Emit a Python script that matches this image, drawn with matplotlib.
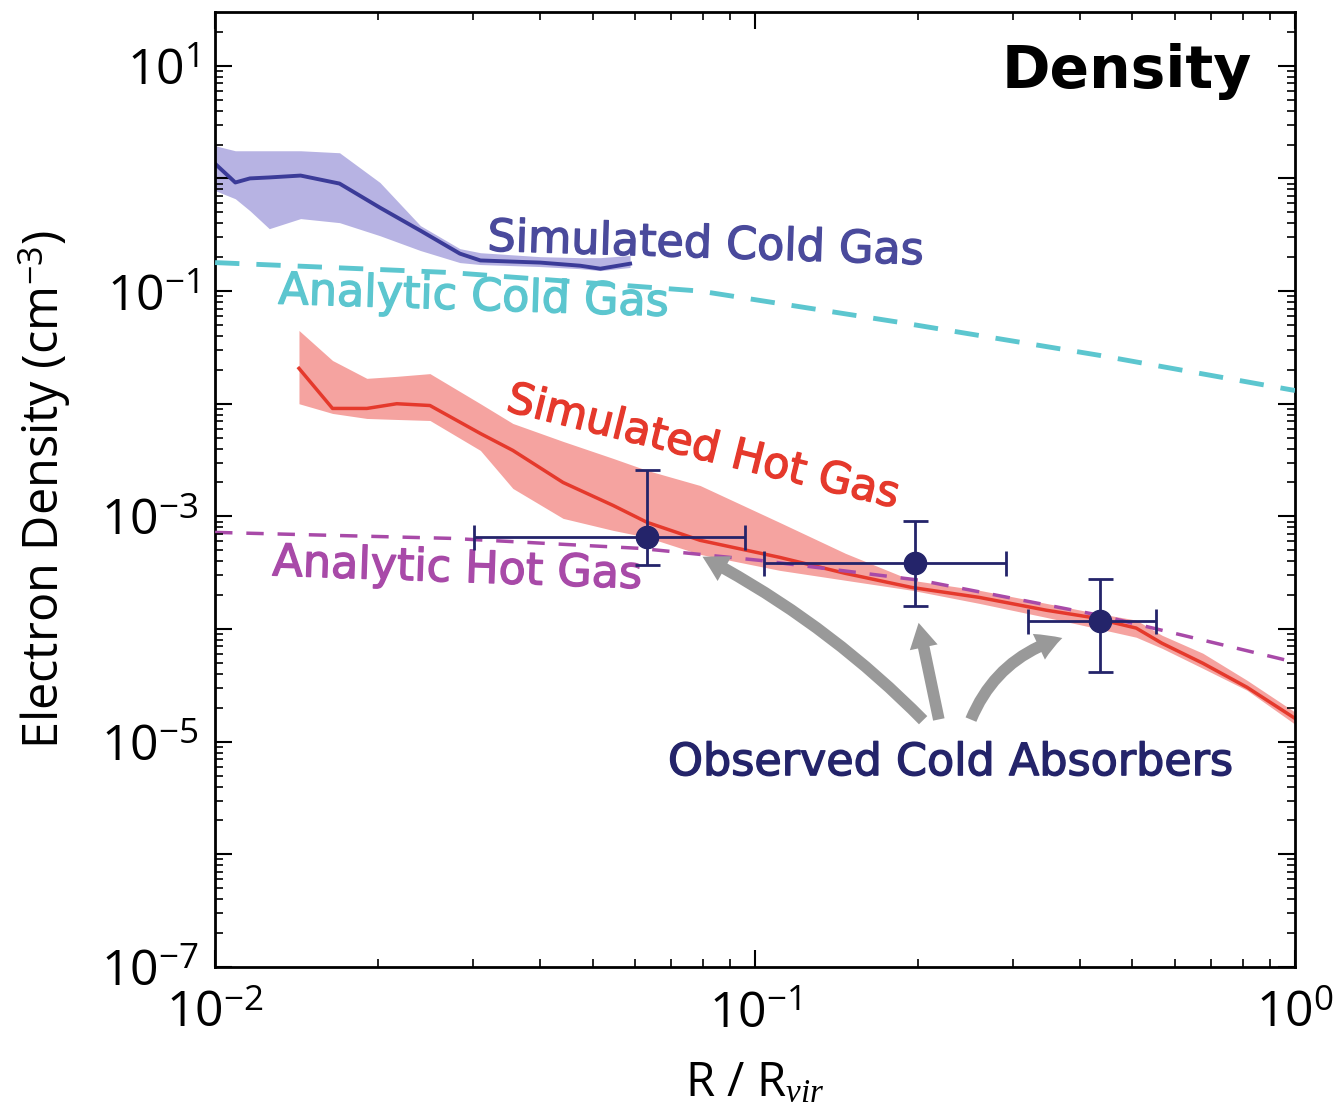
import matplotlib
matplotlib.use("Agg")
import matplotlib.pyplot as plt
import matplotlib.patheffects as pe
import numpy as np
from matplotlib.patches import FancyArrowPatch
from matplotlib.ticker import FixedLocator, NullLocator
from matplotlib.transforms import blended_transform_factory

plt.rcParams['mathtext.fontset'] = 'custom'
plt.rcParams['mathtext.rm'] = 'Open Sans'
plt.rcParams['mathtext.it'] = 'Liberation Serif:italic'

# simulated cold gas: median and spread
cold_r = [0.0100, 0.0109, 0.0116, 0.0126, 0.0144, 0.0170, 0.0202, 0.0240,
          0.0284, 0.0310, 0.0400, 0.0474, 0.0517, 0.0587]
cold_mid = [1.35, 0.92, 1.00, 1.02, 1.06, 0.90, 0.55, 0.344,
            0.215, 0.187, 0.179, 0.168, 0.158, 0.175]
cold_hi = [1.95, 1.76, 1.76, 1.76, 1.76, 1.69, 0.92, 0.381,
           0.238, 0.219, 0.202, 0.198, 0.198, 0.207]
cold_lo = [0.78, 0.66, 0.517, 0.358, 0.44, 0.405, 0.31, 0.229,
           0.179, 0.172, 0.165, 0.158, 0.152, 0.162]

# simulated hot gas: median and spread
hot_r = [0.0143, 0.0165, 0.0191, 0.0217, 0.0250, 0.0310, 0.0356, 0.0441,
         0.0546, 0.0631, 0.0791, 0.111, 0.147, 0.195, 0.260, 0.346,
         0.419, 0.508, 0.567, 0.675, 0.815, 1.0]
hot_mid = [2.06e-2, 9.08e-3, 9.08e-3, 1.00e-2, 9.64e-3, 5.44e-3, 3.85e-3,
           2.00e-3, 1.25e-3, 8.85e-4, 6.13e-4, 4.33e-4, 3.12e-4, 2.34e-4,
           1.91e-4, 1.47e-4, 1.27e-4, 1.02e-4, 7.48e-5, 4.97e-5, 3.04e-5, 1.61e-5]
hot_hi = [4.47e-2, 2.42e-2, 1.68e-2, 1.75e-2, 1.85e-2, 1.00e-2, 6.68e-3,
          4.63e-3, 3.27e-3, 2.56e-3, 1.88e-3, 8.85e-4, 4.70e-4, 2.71e-4,
          2.21e-4, 1.69e-4, 1.41e-4, 1.20e-4, 8.81e-5, 6.10e-5, 3.51e-5, 1.83e-5]
hot_lo = [1.00e-2, 8.20e-3, 7.40e-3, 7.25e-3, 7.10e-3, 3.85e-3, 1.77e-3,
          9.60e-4, 7.51e-4, 6.52e-4, 4.60e-4, 3.32e-4, 2.71e-4, 2.21e-4,
          1.69e-4, 1.27e-4, 1.04e-4, 8.46e-5, 6.75e-5, 4.48e-5, 2.86e-5, 1.43e-5]

# analytic models
cold_model_r = [0.01, 0.0273, 0.0791, 0.186, 0.436, 1.0]
cold_model_n = [0.179, 0.146, 0.100, 0.0526, 0.0268, 0.0131]
hot_model_r = [0.01, 0.0273, 0.0612, 0.102, 0.202, 0.436, 1.0]
hot_model_n = [7.21e-4, 6.38e-4, 5.20e-4, 4.07e-4, 2.71e-4, 1.32e-4, 5.07e-5]

# observed absorbers
obs_r = [0.0631, 0.198, 0.436]
obs_r_lo = [0.0302, 0.104, 0.320]
obs_r_hi = [0.0957, 0.292, 0.553]
obs_n = [6.52e-4, 3.83e-4, 1.17e-4]
obs_n_lo = [3.68e-4, 1.59e-4, 4.13e-5]
obs_n_hi = [2.56e-3, 9.04e-4, 2.76e-4]

xlim = (1e-2, 1)
ylim = (1e-7, 30)
y_major = [10.0 ** k for k in range(-7, 2)]
y_minor = [m * 10.0 ** k for k in range(-7, 2) for m in range(2, 10) if m * 10.0 ** k < ylim[1]]
x_minor = [m * 10.0 ** k for k in (-2, -1) for m in range(2, 10)]

fig = plt.figure(figsize=(13.36, 11.12), dpi=100)
ax = fig.add_axes([0.161, 0.1304, 0.8083, 0.8588])

ax.fill_between(cold_r, cold_lo, cold_hi, color='#b7b3e3', lw=0, zorder=1)
ax.plot(cold_r, cold_mid, color='#3b3b98', lw=2.8, zorder=2)
ax.fill_between(hot_r, hot_lo, hot_hi, color='#f5a3a0', lw=0, zorder=1)
ax.plot(hot_r, hot_mid, color='#e5392c', lw=2.5, zorder=2)

ax.plot(cold_model_r, cold_model_n, color='#5cc6cf', lw=3.5, ls=(0, (5, 3.5)), zorder=3)
ax.plot(hot_model_r, hot_model_n, color='#a84aa8', lw=2.5, ls=(0, (5, 4)), zorder=3)

xerr = [np.subtract(obs_r, obs_r_lo), np.subtract(obs_r_hi, obs_r)]
yerr = [np.subtract(obs_n, obs_n_lo), np.subtract(obs_n_hi, obs_n)]
ax.errorbar(obs_r, obs_n, xerr=xerr, yerr=yerr, fmt='o', color='#24246a',
            ms=16, elinewidth=2, capsize=9, capthick=2, zorder=5)

ax.set_xscale('log')
ax.set_yscale('log')

ax.yaxis.set_major_locator(FixedLocator(y_major))
ax.yaxis.set_minor_locator(NullLocator())
ax.set_yticklabels(['$10^{%s}$' % (str(k) if k > 0 else '\u2212%d' % -k) if k % 2 else ''
                    for k in range(-7, 2)])
ax.set_xticks([1e-2, 1e-1, 1])
ax.xaxis.set_minor_locator(NullLocator())
ax.set_xticklabels(['$10^{-2}$', '$10^{-1}$', '$10^{0}$'])
ax.tick_params(which='both', direction='in', top=True, right=True)
ax.tick_params(which='major', length=12, width=1.5, labelsize=36)
ax.tick_params(axis='x', which='major', pad=16)
ax.tick_params(axis='y', which='major', pad=12)
for s in ax.spines.values():
    s.set_linewidth(2)

# short minor ticks along all four spines, drawn as tick markers
ty = blended_transform_factory(ax.transAxes, ax.transData)
tx = blended_transform_factory(ax.transData, ax.transAxes)
tick_kw = dict(ls='none', ms=6, mew=1.2, color='k', clip_on=False, zorder=6)
ax.plot([0] * len(y_minor), y_minor, marker=1, transform=ty, **tick_kw)
ax.plot([1] * len(y_minor), y_minor, marker=0, transform=ty, **tick_kw)
ax.plot(x_minor, [0] * len(x_minor), marker=2, transform=tx, **tick_kw)
ax.plot(x_minor, [1] * len(x_minor), marker=3, transform=tx, **tick_kw)

ax.set_xlim(*xlim)
ax.set_ylim(*ylim)

ax.set_ylabel('Electron Density (cm$^{-3}$)', fontsize=35, family='Open Sans')
ax.yaxis.set_label_coords(-0.132, 0.5)
ax.set_xlabel('R / R$_{\\mathit{vir}}$', fontsize=34, family='Open Sans')
ax.xaxis.set_label_coords(0.5, -0.098)

ax.text(0.960, 0.920, 'Density', transform=ax.transAxes, ha='right', va='baseline',
        fontsize=42, fontweight='bold')

thick = [pe.withStroke(linewidth=1.0, foreground=c) for c in
         ('#4a4a9c', '#5cc6cf', '#e5392c', '#a84aa8', '#24246a')]
ax.text(0.0319, 0.229, 'Simulated Cold Gas', color='#4a4a9c', fontsize=32,
        rotation=-1.8, rotation_mode='anchor', va='baseline', path_effects=[thick[0]])
ax.text(0.01308, 0.0774, 'Analytic Cold Gas', color='#5cc6cf', fontsize=32,
        rotation=-1.8, rotation_mode='anchor', va='baseline', path_effects=[thick[1]])
ax.text(0.0344, 8.7e-3, 'Simulated Hot Gas', color='#e5392c', fontsize=31,
        rotation=-14, rotation_mode='anchor', va='baseline', path_effects=[thick[2]])
ax.text(0.01275, 3.0e-4, 'Analytic Hot Gas', color='#a84aa8', fontsize=32,
        rotation=-2, rotation_mode='anchor', va='baseline', path_effects=[thick[3]])
ax.text(0.069, 5.05e-6, 'Observed Cold Absorbers', color='#24246a', fontsize=32,
        va='baseline', path_effects=[thick[4]])

# arrows from the label to each absorber
arrow_kw = dict(arrowstyle='simple,head_width=1.7,head_length=1.5,tail_width=0.7',
                color='#999999', mutation_scale=12, zorder=4, lw=0)
for start, end, rad in [((0.2065, 1.49e-5), (0.0791, 4.5e-4), 0.08),
                        ((0.2195, 1.49e-5), (0.2004, 1.2e-4), 0.0),
                        ((0.250, 1.49e-5), (0.375, 8.45e-5), -0.25)]:
    ax.add_patch(FancyArrowPatch(start, end, connectionstyle='arc3,rad=%s' % rad, **arrow_kw))

fig.savefig('out.png', dpi=100)
